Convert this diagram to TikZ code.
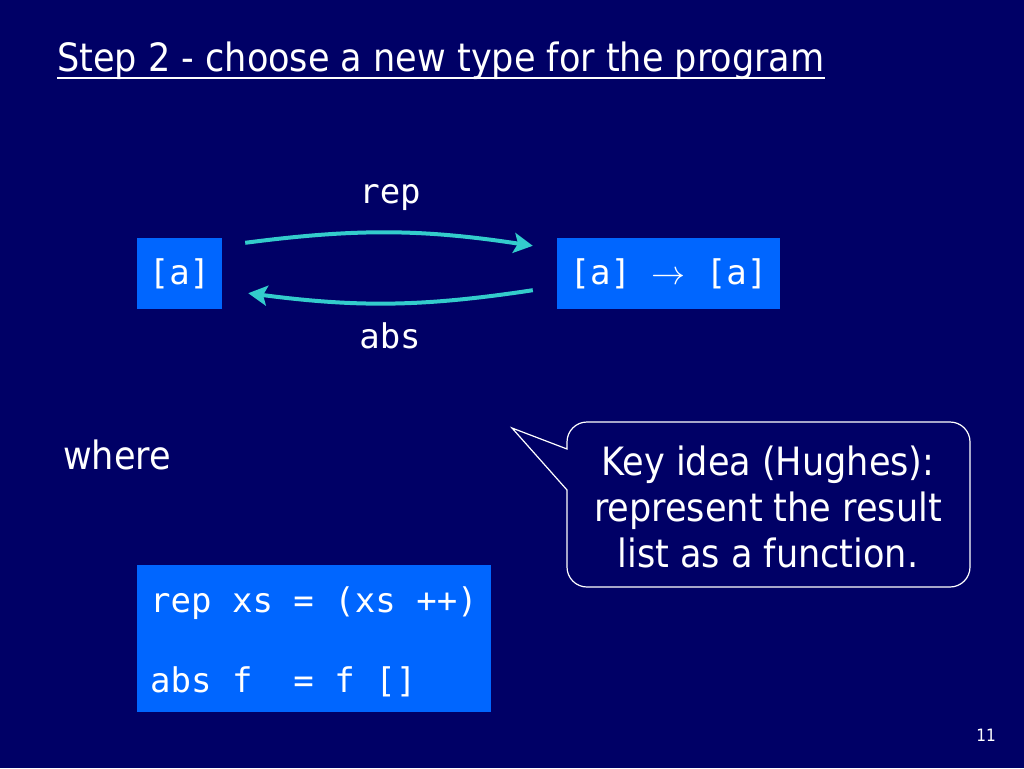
\RequirePackage{fix-cm}
\documentclass[tikz,border=0pt]{standalone}
\usepackage{fontspec}
\setmainfont{DejaVu Sans Condensed}
\setmonofont{DejaVu Sans Mono}
\usetikzlibrary{arrows.meta}
\definecolor{slidebg}{RGB}{0,0,102}
\definecolor{boxblue}{RGB}{0,102,255}
\definecolor{linkcyan}{RGB}{51,204,204}
\newcommand{\codefont}{\ttfamily\fontsize{34}{40}\selectfont}
\begin{document}
\begin{tikzpicture}[x=1pt,y=1pt,
	box/.style={fill=boxblue,text=white,inner sep=0pt,font=\codefont},
	lbl/.style={text=white,inner sep=0pt,font=\codefont},
	txt/.style={text=white,inner sep=0pt},
	link/.style={draw=linkcyan,line width=4pt,-{Stealth[length=19pt,width=20pt,inset=4pt]}}]
	\useasboundingbox (0,0) rectangle (1024,-768);
	\fill[slidebg] (0,0) rectangle (1024,-768);
	% title
	\node[txt,anchor=base west,font=\fontsize{39}{46}\selectfont] (title) at (57,-71) {Step 2 - choose a new type for the program};
	\draw[white,line width=2pt] ([yshift=-7pt]title.base west) -- ([yshift=-7pt]title.base east);
	% the two types
	\node[box,minimum width=85,minimum height=71] (lst) at (179.5,-273.5) {[a]};
	\node[box,minimum width=223,minimum height=71] (fun) at (668.5,-273.5) {[a] $\rightarrow$ [a]};
	\node[lbl] (replbl) at (390,-198) {rep};
	\node[lbl] (abslbl) at (390,-336) {abs};
	\draw[link] ([xshift=23pt,yshift=-5pt]lst.north east) to[bend left=8] ([xshift=-24pt,yshift=-8pt]fun.north west);
	\draw[link] ([xshift=-24pt,yshift=19pt]fun.south west) to[bend left=8] ([xshift=26pt,yshift=16pt]lst.south east);
	% where
	\node[txt,anchor=base west,font=\fontsize{39}{46}\selectfont] (where) at (63,-469) {where};
	\node[box,minimum width=354,minimum height=147,anchor=north west] (code) at (137,-565) {};
	\node[lbl,anchor=base west] (repdef) at (150,-612) {rep xs = (xs ++)};
	\node[lbl,anchor=base west] (absdef) at (150,-692) {abs f\ \ = f []};
	% callout
	\draw[white,line width=1.2pt] (512,-428) -- (567,-449) -- (567,-442) arc[start angle=180,end angle=90,radius=20] -- (950,-422) arc[start angle=90,end angle=0,radius=20] -- (970,-567) arc[start angle=0,end angle=-90,radius=20] -- (587,-587) arc[start angle=270,end angle=180,radius=20] -- (567,-490) -- cycle;
	\node[txt,align=center,font=\fontsize{39}{46}\selectfont] (keyidea) at (768,-507) {Key idea (Hughes):\\represent the result\\list as a function.};
	\node[txt,font=\fontsize{17}{20}\selectfont] (pagenum) at (986,-735) {11};
\end{tikzpicture}
\end{document}
